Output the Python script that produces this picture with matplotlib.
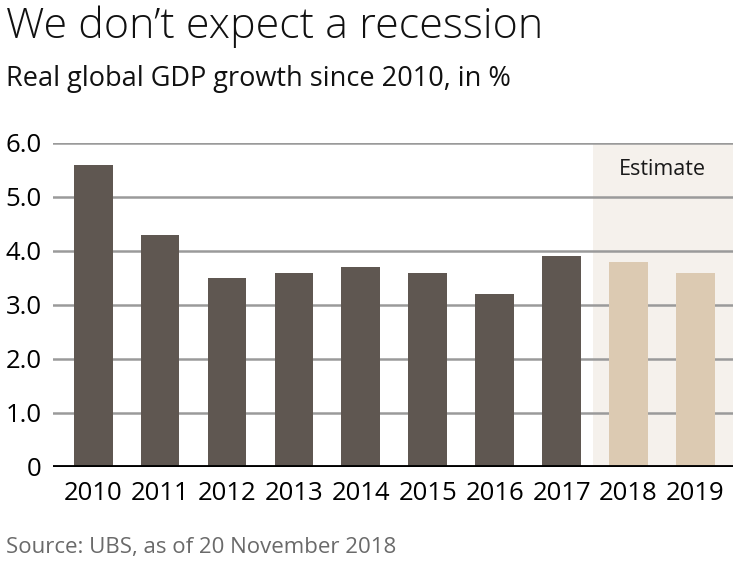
import numpy as np
import matplotlib.pyplot as plt

plt.rcParams['font.family'] = ['Open Sans', 'DejaVu Sans']

years = ["2010", "2011", "2012", "2013", "2014", "2015", "2016", "2017", "2018", "2019"]
growth = [5.6, 4.3, 3.5, 3.6, 3.7, 3.6, 3.2, 3.9, 3.8, 3.6]
is_estimate = [False] * 8 + [True] * 2
y_ticks = [0, 1, 2, 3, 4, 5, 6]
y_labels = ["0", "1.0", "2.0", "3.0", "4.0", "5.0", "6.0"]

fig = plt.figure(figsize=(7.53, 5.64), dpi=100)
ax = fig.add_axes([0.0704, 0.172, 0.903, 0.5745])

x = np.arange(len(years))
colors = ["#dccab2" if e else "#5f5751" for e in is_estimate]

# estimate background
first_est = is_estimate.index(True)
ax.axvspan(first_est - 0.53, len(years) - 0.44, color="#f5f1ec", zorder=0, lw=0)
ax.text((first_est + len(years) - 1) / 2, 5.5, "Estimate", ha="center", va="center",
        fontsize=15.5, color="#1a1a1a")

for t in y_ticks[1:]:
    ax.axhline(t, color="#9a9a9a", lw=1.8, zorder=1)
ax.bar(x, growth, width=0.58, color=colors, zorder=2)
ax.axhline(0, color="black", lw=3.5, zorder=3)

ax.set_xlim(-0.6, len(years) - 0.44)
ax.set_ylim(0, 6.0)
ax.set_xticks(x)
ax.set_xticklabels(years, fontsize=18.5)
ax.set_yticks(y_ticks)
ax.set_yticklabels(y_labels, fontsize=18.5)
ax.tick_params(length=0, pad=8)
ax.tick_params(axis="x", pad=10)
for s in ax.spines.values():
    s.set_visible(False)

fig.text(0.008, 0.99, "We don\u2019t expect a recession", fontsize=31, va="top",
         color="#111111", fontweight="light")
fig.text(0.008, 0.885, "Real global GDP growth since 2010, in %", fontsize=19.5, va="top", color="#111111")
fig.text(0.008, 0.01, "Source: UBS, as of 20 November 2018", fontsize=16, va="bottom", color="#6a6a6a")

fig.savefig("out.png", dpi=100)
